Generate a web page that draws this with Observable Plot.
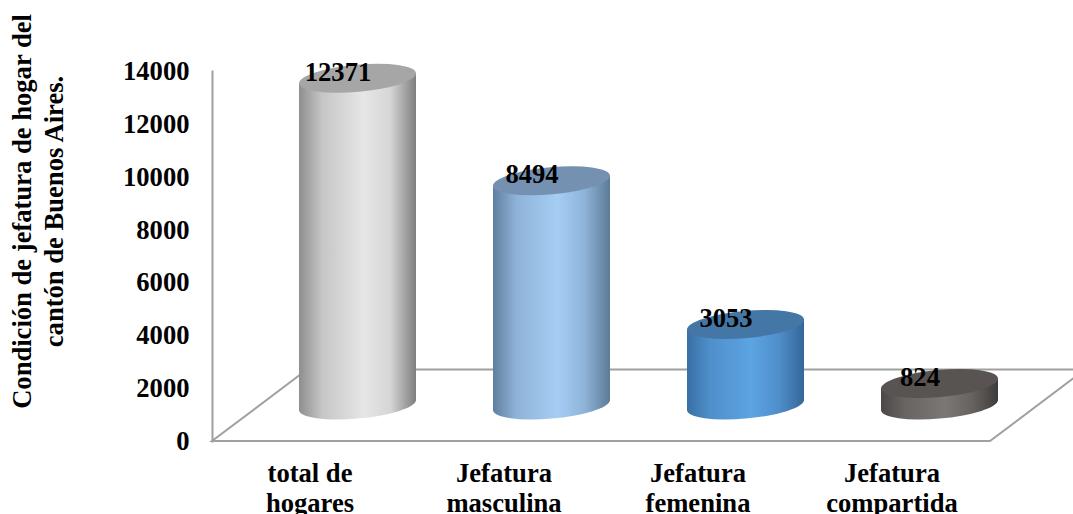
<!DOCTYPE html>
<html lang="es">
<head>
<meta charset="utf-8">
<script src="https://cdn.jsdelivr.net/npm/d3@7"></script>
<script src="https://cdn.jsdelivr.net/npm/@observablehq/plot@0.6"></script>
<style>html,body{margin:0;padding:0;background:#fff}svg{display:block;overflow:visible}</style>
</head>
<body>
<div id="chart"></div>
<script>
const categories = ["total de\nhogares", "Jefatura\nmasculina", "Jefatura\nfemenina", "Jefatura\ncompartida"];
const households = [12371, 8494, 3053, 824];
const yTicks = [0, 2000, 4000, 6000, 8000, 10000, 12000, 14000];
const axisTitle = "Condición de jefatura de hogar del\ncantón de Buenos Aires.";

// appearance: [offset, colour] stops for each cylinder wall, plus the lid colour
const wallStops = [
  [[0,"#8e8e8e"],[.2,"#c6c6c6"],[.55,"#e6e6e6"],[.78,"#d6d6d6"],[1,"#7e7e7e"]],
  [[0,"#5f7f9e"],[.2,"#8fb3d8"],[.55,"#a5cdf3"],[.78,"#8fb4d9"],[1,"#5d7a96"]],
  [[0,"#396fa5"],[.2,"#4f8fcb"],[.55,"#5ca4e2"],[.78,"#4f8fcb"],[1,"#356699"]],
  [[0,"#4a4746"],[.2,"#686462"],[.55,"#7b7775"],[.78,"#66625f"],[1,"#3e3c3b"]]
];
const lidColors = ["#a6a6a6", "#7591b2", "#4577a6", "#595452"];
const gridColor = "#a0a0a0";
const fontPx = 26.6;
const depth = [95, -71.5];          // px offset of the back of the floor
const shift = [depth[0] / 2 + .5, depth[1] / 2]; // cylinders stand mid-floor
const tilt = -5.14, slant = 5;      // lid ellipse rotation and edge rise

const rows = categories.map((category, i) => ({category, value: households[i], i}));
const svgNS = "http://www.w3.org/2000/svg";

function floor(index, scales, values, dims) {
  const g = document.createElementNS(svgNS, "g");
  const x0 = dims.marginLeft, x1 = dims.width - dims.marginRight, y0 = scales.y(0);
  const [dx, dy] = depth;
  const p = document.createElementNS(svgNS, "path");
  p.setAttribute("d", `M${x0},${y0}H${x1}L${x1 + dx},${y0 + dy}H${x0 + dx}Z`);
  p.setAttribute("fill", "none");
  p.setAttribute("stroke", gridColor);
  p.setAttribute("stroke-width", 2);
  g.append(p);
  return g;
}

function cylinders(index, scales, values, dims, context, next) {
  const g = document.createElementNS(svgNS, "g");
  const defs = document.createElementNS(svgNS, "defs");
  g.append(defs);
  const bw = scales.x.bandwidth();
  const rx = bw * .502, ry = bw * .116;
  for (const i of index) {
    const d = rows[i];
    const x0 = values.x[i] + shift[0], x1 = x0 + bw;
    const top = values.y2[i] + shift[1], bot = values.y1[i] + shift[1];
    const grad = document.createElementNS(svgNS, "linearGradient");
    grad.id = `wall-${d.i}`;
    for (const [o, c] of wallStops[d.i]) {
      const s = document.createElementNS(svgNS, "stop");
      s.setAttribute("offset", o); s.setAttribute("stop-color", c);
      grad.append(s);
    }
    defs.append(grad);
    const wall = document.createElementNS(svgNS, "path");
    wall.setAttribute("d", `M${x0},${top + slant}V${bot + slant}A${rx},${ry} ${tilt} 0 0 ${x1},${bot - slant}V${top - slant}Z`);
    wall.setAttribute("fill", `url(#wall-${d.i})`);
    g.append(wall);
    const lid = document.createElementNS(svgNS, "ellipse");
    const cx = (x0 + x1) / 2;
    lid.setAttribute("rx", rx); lid.setAttribute("ry", ry);
    lid.setAttribute("transform", `translate(${cx},${top}) rotate(${tilt})`);
    lid.setAttribute("fill", lidColors[d.i]);
    g.append(lid);
  }
  return g;
}

const chart = Plot.plot({
  width: 1073, height: 514,
  marginLeft: 212, marginRight: 83, marginTop: 71, marginBottom: 73,
  style: {fontFamily: "'Liberation Serif'", fontWeight: "bold", fontSize: fontPx + "px", color: "#000", background: "#fff"},
  x: {domain: categories, paddingInner: .396, paddingOuter: .198, label: null},
  y: {domain: [0, 14000], label: null},
  marks: [
    floor,
    Plot.frame({anchor: "left", stroke: gridColor, strokeWidth: 2}),
    Plot.barY(rows, {x: "category", y: "value", render: cylinders}),
    Plot.axisY({ticks: yTicks, tickFormat: d => String(d), tickSize: 0, tickPadding: 23, fontSize: fontPx, stroke: null, fill: "#000"}),
    Plot.axisX({tickSize: 0, tickPadding: 19, lineHeight: 1.13, fontSize: fontPx, stroke: null, fill: "#000"}),
    Plot.text(rows, {x: "category", y: "value", text: d => String(d.value), fontSize: fontPx, fill: "#000", fontWeight: "bold", lineAnchor: "bottom", dx: shift[0] - 20, dy: shift[1] + 2}),
    Plot.text([axisTitle], {frameAnchor: "left", rotate: -90, fontSize: fontPx, fill: "#000", fontWeight: "bold", lineHeight: 1.2, textAnchor: "middle", dx: -176, dy: -45})
  ]
});
document.getElementById("chart").append(chart);
</script>
</body>
</html>
